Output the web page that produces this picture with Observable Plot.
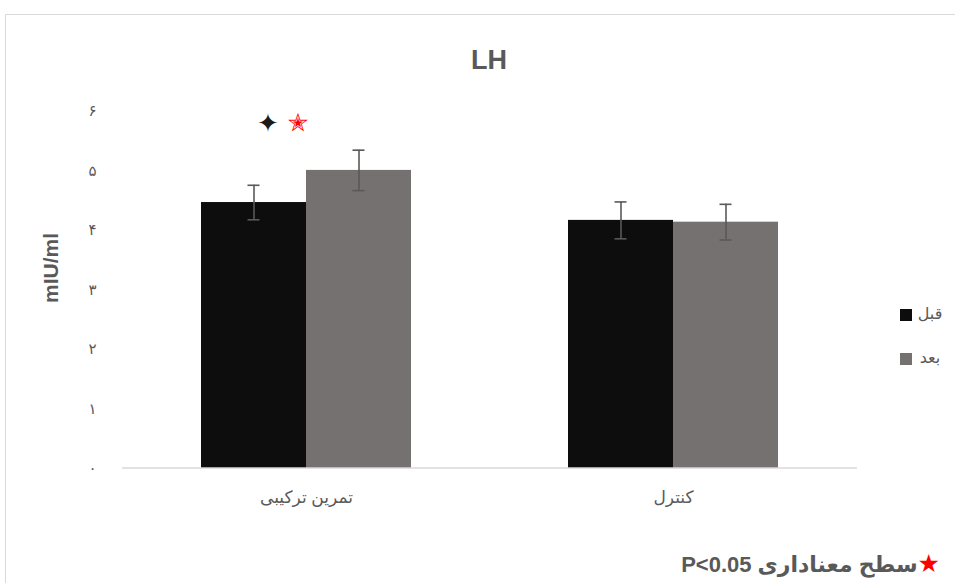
<!DOCTYPE html>
<html>
<head>
<meta charset="utf-8">
<script src="https://cdn.jsdelivr.net/npm/d3@7"></script>
<script src="https://cdn.jsdelivr.net/npm/@observablehq/plot@0.6"></script>
<style>
  html, body { margin: 0; padding: 0; background: #fff; }
  #chart { width: 955px; height: 583px; }
</style>
</head>
<body>
<div id="chart"></div>
<script>
// LH (mIU/ml) before / after, by group
const groups = ["تمرین ترکیبی", "کنترل"];
const phases = ["قبل", "بعد"];
const beforeMean = [4.47, 4.17];
const beforeSd = [0.29, 0.31];
const afterMean = [5.01, 4.14];
const afterSd = [0.34, 0.30];
const yTicks = [0, 1, 2, 3, 4, 5, 6];
const phaseColors = ["#0d0d0d", "#767171"];

const rows = [];
groups.forEach((g, i) => {
  rows.push({group: g, phase: phases[0], mean: beforeMean[i], sd: beforeSd[i]});
  rows.push({group: g, phase: phases[1], mean: afterMean[i], sd: afterSd[i]});
});

// significance markers above the training group
const markerGroup = [{group: groups[0], phase: phases[0], y: 5.8}];

const persianDigits = "۰۱۲۳۴۵۶۷۸۹";
const toPersian = (n) => String(n).replace(/\d/g, (d) => persianDigits[d]);

const W = 955, H = 583;
const mL = 122, mR = 98, mT = 111, mB = 115;

const plot = Plot.plot({
  width: W,
  height: H,
  marginLeft: mL,
  marginRight: mR,
  marginTop: mT,
  marginBottom: mB,
  style: {fontFamily: "'Liberation Sans', 'DejaVu Sans', sans-serif", color: "#595959", background: "#fff"},
  fx: {domain: groups, paddingInner: 0.4286, paddingOuter: 0.2143, label: null},
  x: {domain: phases, padding: 0, axis: null},
  y: {domain: [0, 6], label: null},
  color: {domain: phases, range: phaseColors},
  marks: [
    Plot.axisY({ticks: yTicks, tickSize: 0, tickPadding: 105, tickFormat: toPersian, fontSize: 15, label: null}),
    Plot.axisFx({anchor: "bottom", tickSize: 0, tickPadding: 22, fontSize: 17, label: null}),
    Plot.barY(rows, {fx: "group", x: "phase", y: "mean", fill: "phase"}),
    Plot.ruleX(rows, {fx: "group", x: "phase", y1: (d) => d.mean - d.sd, y2: (d) => d.mean + d.sd, stroke: "#595959", strokeWidth: 1.6}),
    Plot.tickY(rows, {fx: "group", x: "phase", y: (d) => d.mean - d.sd, stroke: "#595959", strokeWidth: 1.6, insetLeft: 46.5, insetRight: 46.5}),
    Plot.tickY(rows, {fx: "group", x: "phase", y: (d) => d.mean + d.sd, stroke: "#595959", strokeWidth: 1.6, insetLeft: 46.5, insetRight: 46.5}),
    Plot.text(markerGroup, {fx: "group", x: "phase", y: "y", text: () => "✦", fill: "#1a1a1a", dx: 14, fontSize: 26}),
    Plot.text(markerGroup, {fx: "group", x: "phase", y: "y", text: () => "✭", fill: "#ff0000", dx: 44, fontSize: 25})
  ]
});

document.getElementById("chart").appendChild(plot);

const svg = d3.select(plot);
const y = plot.scale("y");
const y0 = y.apply(0);

// baseline across the whole plot area
svg.append("line")
  .attr("x1", mL).attr("x2", W - mR)
  .attr("y1", y0).attr("y2", y0)
  .attr("stroke", "#d9d9d9").attr("stroke-width", 1.3);

// chart border
svg.append("path")
  .attr("d", `M5.5,${H} V14.5 H${W}`)
  .attr("fill", "none").attr("stroke", "#d9d9d9").attr("stroke-width", 1);

// title
svg.append("text")
  .attr("x", 489).attr("y", 69)
  .attr("text-anchor", "middle")
  .attr("font-size", 27).attr("font-weight", "bold")
  .attr("fill", "#595959")
  .text("LH");

// y axis title
svg.append("text")
  .attr("transform", `translate(58,268) rotate(-90)`)
  .attr("text-anchor", "middle")
  .attr("font-size", 21).attr("font-weight", "bold")
  .attr("fill", "#595959")
  .text("mIU/ml");

// legend
phases.forEach((p, i) => {
  const ly = 315 + i * 44;
  svg.append("rect")
    .attr("x", 900).attr("y", ly - 6).attr("width", 12).attr("height", 12)
    .attr("fill", phaseColors[i]);
  svg.append("text")
    .attr("x", 930).attr("y", ly)
    .attr("text-anchor", "middle")
    .attr("dominant-baseline", "middle")
    .attr("font-size", 16).attr("fill", "#595959")
    .text(p);
});

// significance note
const note = svg.append("text")
  .attr("x", 940).attr("y", 572)
  .attr("direction", "rtl")
  .attr("text-anchor", "start")
  .attr("font-size", 22).attr("font-weight", "bold")
  .attr("fill", "#595959");
note.append("tspan").attr("fill", "#ff0000").attr("font-size", 25).text("★");
note.append("tspan").text("سطح معناداری P<0.05");
</script>
</body>
</html>
